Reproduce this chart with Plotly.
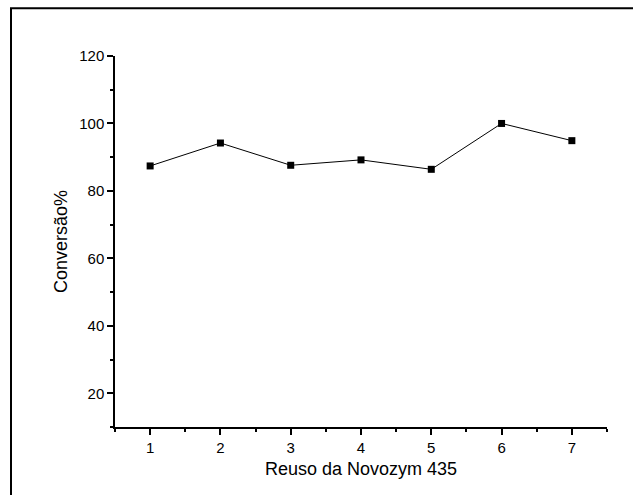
import plotly.graph_objects as go

reuse = [1, 2, 3, 4, 5, 6, 7]
conversion = [87.4, 94.2, 87.6, 89.2, 86.4, 100.0, 94.9]

fig = go.Figure()
fig.add_trace(go.Scatter(
    x=reuse, y=conversion, mode="lines+markers",
    line=dict(color="black", width=1),
    marker=dict(symbol="square", size=7, color="black"),
    showlegend=False,
))

font_family = "Liberation Sans, Arial, sans-serif"
fig.update_layout(
    width=633, height=495,
    margin=dict(l=115, r=26, t=56, b=68),
    paper_bgcolor="white", plot_bgcolor="white",
    font=dict(family=font_family, color="black", size=15),
    xaxis=dict(
        range=[0.5, 7.5], tick0=1, dtick=1,
        showline=True, linecolor="black", linewidth=1.5,
        ticks="outside", ticklen=6, tickwidth=1.5, tickcolor="black",
        minor=dict(dtick=0.5, tick0=0.5, ticks="outside", ticklen=3, tickwidth=1.5, tickcolor="black"),
        showgrid=False, zeroline=False,
        title=dict(text="Reuso da Novozym 435", font=dict(size=18), standoff=8),
        tickfont=dict(size=15),
    ),
    yaxis=dict(
        range=[10, 120], tick0=0, dtick=20,
        showline=True, linecolor="black", linewidth=1.5,
        ticks="outside", ticklen=6, tickwidth=1.5, tickcolor="black",
        minor=dict(dtick=10, tick0=0, ticks="outside", ticklen=3, tickwidth=1.5, tickcolor="black"),
        showgrid=False, zeroline=False,
        title=dict(text="Conversão%", font=dict(size=18), standoff=7),
        tickfont=dict(size=15),
    ),
    shapes=[dict(
        type="rect", xref="paper", yref="paper",
        x0=(11 - 115) / 492, x1=1.2,
        y0=-0.3, y1=(427 - 8) / 371.3,
        line=dict(color="black", width=2), fillcolor="rgba(0,0,0,0)",
        layer="below",
    )],
)

fig.write_html("out.html")
